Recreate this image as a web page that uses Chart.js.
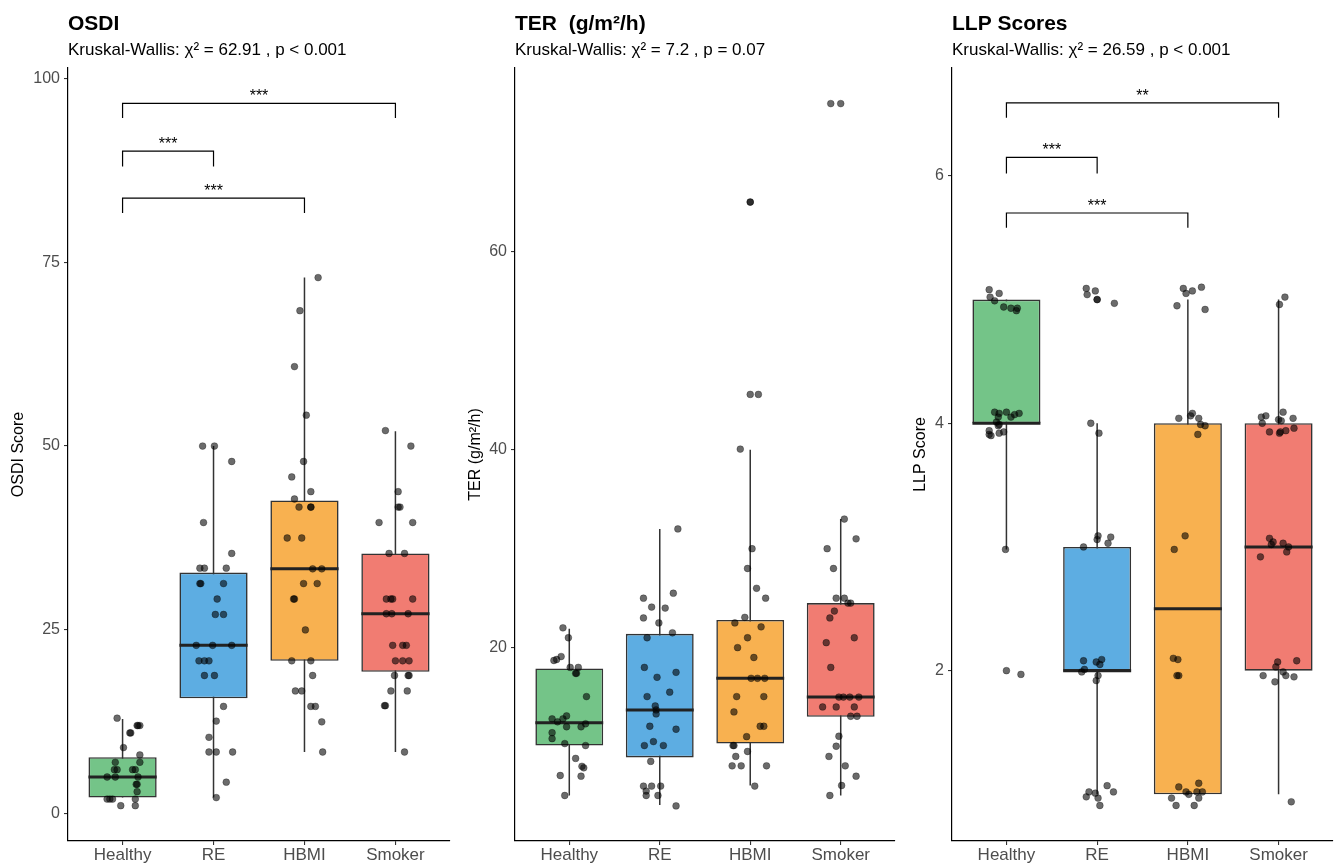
<!DOCTYPE html>
<html><head><meta charset="utf-8">
<script src="https://cdn.jsdelivr.net/npm/chart.js@4.4.0/dist/chart.umd.min.js"></script>
<style>
html,body{margin:0;padding:0;background:#fff;}
#wrap{position:relative;width:1338px;height:865px;overflow:hidden;background:#fff;}
canvas{position:absolute;top:0;}
</style></head><body>
<div id="wrap">
<canvas id="c1" width="455" height="865" style="left:0px"></canvas>
<canvas id="c2" width="445" height="865" style="left:455px"></canvas>
<canvas id="c3" width="438" height="865" style="left:900px"></canvas>
</div>
<script>
const categories = ['Healthy', 'RE', 'HBMI', 'Smoker'];
const boxColors = ['rgb(116,196,136)', 'rgb(93,173,226)', 'rgb(248,177,80)', 'rgb(241,124,114)'];

// ---------- OSDI ----------
const osdiTitle = 'OSDI';
const osdiSubtitle = 'Kruskal-Wallis: χ² = 62.91 , p < 0.001';
const osdiAxisTitle = 'OSDI Score';
const osdiTicks = [0, 25, 50, 75, 100];
const osdiQ1 = [2.2, 15.7, 20.8, 19.3];
const osdiMedian = [5.0, 22.9, 33.3, 27.2];
const osdiQ3 = [7.7, 32.8, 42.6, 35.4];
const osdiWhiskerLow = [2.2, 2.2, 8.4, 8.4];
const osdiWhiskerHigh = [12.9, 50.0, 72.9, 52.0];
// jittered points: [horizontal jitter (category units), value]
const osdiHealthyPts = [[-0.06,13],[0.16,12],[0.17,12],[0.19,12],[0.08,11],[0.09,11],[0.01,9],[0.19,8],[-0.08,7],[0.19,7],[-0.09,6],[-0.06,6],[0.11,6],[0.14,6],[-0.17,5],[-0.08,5],[0.17,5],[0.15,4],[0.16,4],[0.16,3],[-0.17,2],[-0.14,2],[-0.11,2],[0.14,2],[-0.02,1.1],[0.14,1.1]];
const osdiREPts = [[-0.12,50],[0.01,50],[0.20,47.9],[-0.11,39.6],[0.20,35.4],[-0.15,33.4],[-0.10,33.4],[0.14,33.4],[-0.15,31.3],[-0.14,31.3],[0.11,31.3],[0.04,29.2],[0.02,27.1],[0.11,27.1],[-0.19,22.9],[-0.01,22.9],[0.20,22.9],[-0.16,20.8],[-0.10,20.8],[-0.05,20.8],[-0.10,18.8],[0.01,18.8],[0.11,14.6],[0.03,12.6],[-0.05,10.4],[-0.05,8.4],[0.03,8.4],[0.21,8.4],[0.14,4.3],[0.03,2.2]];
const osdiHBMIPts = [[0.15,72.9],[-0.05,68.4],[-0.11,60.8],[0.02,54.2],[-0.01,47.9],[-0.14,45.8],[0.07,43.8],[-0.11,42.8],[-0.06,41.7],[0.07,41.7],[0.07,41.7],[-0.19,37.5],[-0.03,37.5],[0.09,33.3],[0.19,33.3],[-0.01,31.3],[0.14,31.3],[-0.12,29.2],[-0.11,29.2],[0.01,25.0],[-0.14,20.8],[0.07,20.8],[0.09,18.8],[-0.10,16.7],[-0.03,16.7],[0.07,14.6],[0.12,14.6],[0.19,12.5],[0.20,8.4]];
const osdiSmokerPts = [[-0.11,52.1],[0.17,50],[0.03,43.8],[0.03,41.7],[0.05,41.7],[-0.18,39.6],[0.19,39.6],[-0.07,35.4],[0.10,35.4],[-0.10,29.2],[-0.05,29.2],[-0.03,29.2],[0.19,29.2],[-0.10,27.2],[-0.04,27.2],[0.14,27.2],[-0.03,22.9],[0.08,22.9],[0.12,22.9],[0.00,20.8],[0.08,20.8],[0.15,20.8],[-0.01,18.8],[0.14,18.8],[0.15,18.8],[-0.05,16.7],[0.13,16.7],[-0.12,14.7],[-0.11,14.7],[0.10,8.4]];
const osdiBracketFrom = [1, 1, 1];
const osdiBracketTo = [4, 2, 3];
const osdiBracketTop = [96.6, 90.1, 83.7];
const osdiBracketTip = [94.6, 88.0, 81.7];
const osdiBracketLabel = ['***', '***', '***'];

// ---------- TER ----------
const terTitle = 'TER  (g/m²/h)';
const terSubtitle = 'Kruskal-Wallis: χ² = 7.2 , p = 0.07';
const terAxisTitle = 'TER (g/m²/h)';
const terTicks = [20, 40, 60];
const terQ1 = [10.1, 8.9, 10.3, 13.0];
const terMedian = [12.4, 13.7, 16.9, 15.0];
const terQ3 = [17.9, 21.4, 22.8, 24.5];
const terWhiskerLow = [5.05, 4.1, 6.06, 5.05];
const terWhiskerHigh = [21.9, 32.0, 40.0, 33.0];
const terHealthyPts = [[-0.07,22.0],[-0.01,21.0],[-0.17,18.7],[-0.14,18.8],[-0.09,19.1],[0.01,18.0],[0.10,18.0],[0.07,17.4],[0.08,17.4],[0.19,15.05],[-0.19,12.8],[-0.07,12.8],[-0.13,12.5],[-0.03,13.1],[0.13,12.0],[0.18,12.3],[-0.03,12.0],[-0.19,11.4],[-0.19,10.8],[-0.05,10.3],[0.18,10.1],[0.07,8.8],[0.14,8.0],[0.16,7.85],[0.13,7.0],[-0.10,7.07],[-0.05,5.05]];
const terREPts = [[0.20,32.0],[0.15,25.5],[-0.18,25.0],[-0.09,24.1],[0.06,24.0],[-0.18,23.0],[-0.01,22.5],[0.14,21.5],[-0.14,21.0],[-0.17,18.0],[0.18,17.5],[-0.03,17.0],[0.11,15.5],[-0.14,15.05],[-0.05,14.1],[-0.04,13.7],[-0.04,13.3],[-0.11,12.05],[0.18,11.75],[-0.07,10.5],[-0.17,10.1],[0.04,10.1],[-0.10,8.5],[-0.18,6.0],[-0.09,6.0],[0.01,6.0],[-0.15,5.5],[-0.15,5.05],[-0.02,5.05],[0.18,4.0]];
const terHBMIPts = [[0.00,65.05],[0.00,65.05],[0.00,45.6],[0.09,45.6],[-0.11,40.07],[0.02,30.0],[-0.03,28.0],[0.07,26.0],[0.17,25.0],[-0.06,23.06],[-0.17,22.5],[0.12,22.1],[-0.03,21.0],[-0.14,20.0],[0.04,19.0],[0.01,16.9],[0.08,16.9],[0.16,16.9],[-0.15,15.05],[0.15,15.05],[-0.18,13.5],[0.11,12.05],[0.15,12.05],[-0.04,11.0],[-0.19,10.1],[-0.18,10.1],[-0.16,9.0],[-0.03,9.5],[-0.20,8.05],[-0.10,8.05],[0.18,8.05],[0.05,6.0]];
const terSmokerPts = [[-0.11,75.0],[0.00,75.0],[0.04,33.0],[0.17,31.0],[-0.15,30.0],[-0.08,28.0],[-0.05,25.0],[0.04,25.0],[0.08,24.5],[0.11,24.5],[-0.12,23.0],[-0.07,23.7],[-0.16,20.5],[0.15,21.0],[-0.11,18.0],[-0.02,15.0],[0.03,15.0],[0.10,15.0],[0.20,15.0],[-0.20,14.0],[-0.05,14.0],[0.15,14.0],[0.11,13.06],[0.18,13.06],[-0.02,11.04],[-0.05,10.03],[-0.13,9.0],[0.05,8.05],[0.17,7.0],[0.01,6.06],[-0.12,5.05]];
const terBracketFrom = [];
const terBracketTo = [];
const terBracketTop = [];
const terBracketTip = [];
const terBracketLabel = [];

// ---------- LLP ----------
const llpTitle = 'LLP Scores';
const llpSubtitle = 'Kruskal-Wallis: χ² = 26.59 , p < 0.001';
const llpAxisTitle = 'LLP Score';
const llpTicks = [2, 4, 6];
const llpQ1 = [4.0, 2.0, 1.0, 2.0];
const llpMedian = [4.0, 2.0, 2.5, 3.0];
const llpQ3 = [5.0, 3.0, 4.0, 4.0];
const llpWhiskerLow = [2.98, 1.0, 1.0, 1.0];
const llpWhiskerHigh = [5.0, 4.0, 5.0, 5.0];
const llpHealthyPts = [[-0.19,5.08],[-0.08,5.05],[-0.18,5.02],[-0.13,4.99],[-0.03,4.94],[0.05,4.93],[0.12,4.93],[0.11,4.91],[-0.13,4.09],[-0.08,4.08],[0.00,4.09],[-0.09,4.05],[0.05,4.05],[0.14,4.08],[0.09,4.07],[-0.11,4.01],[-0.08,3.99],[-0.09,3.98],[-0.19,3.94],[-0.17,3.90],[-0.08,3.92],[-0.03,3.93],[-0.19,3.91],[-0.01,2.98],[0.00,2.0],[0.16,1.97]];
const llpREPts = [[-0.12,5.09],[-0.02,5.07],[-0.11,5.04],[0.00,5.0],[0.00,5.0],[0.19,4.97],[-0.07,4.0],[0.02,3.92],[0.01,3.09],[0.15,3.08],[0.00,3.06],[0.12,3.03],[-0.15,3.0],[-0.15,2.08],[-0.01,2.07],[0.05,2.09],[0.03,2.05],[-0.17,1.99],[-0.14,2.01],[0.01,1.96],[-0.01,1.92],[0.11,1.07],[-0.09,1.02],[0.18,1.02],[-0.02,1.01],[-0.12,0.98],[0.01,0.97],[0.03,0.91]];
const llpHBMIPts = [[-0.05,5.09],[0.15,5.10],[0.05,5.07],[-0.02,5.05],[-0.12,4.95],[0.19,4.92],[0.05,4.08],[0.03,4.06],[-0.10,4.04],[0.12,4.04],[0.14,3.99],[0.19,3.98],[0.11,3.91],[-0.03,3.09],[-0.15,2.98],[-0.16,2.10],[-0.11,2.09],[-0.12,1.96],[-0.10,1.96],[0.12,1.09],[-0.10,1.06],[-0.02,1.02],[0.10,1.02],[0.16,1.02],[0.01,1.0],[-0.18,0.97],[0.12,0.97],[-0.13,0.91],[0.07,0.91]];
const llpSmokerPts = [[0.07,5.02],[0.01,4.96],[0.05,4.09],[-0.19,4.05],[-0.14,4.06],[0.00,4.03],[0.16,4.04],[-0.18,4.0],[0.03,4.02],[-0.10,3.93],[0.01,3.92],[0.08,3.94],[0.17,3.96],[0.02,3.93],[-0.10,3.07],[-0.06,3.04],[-0.08,3.02],[0.05,3.03],[0.11,3.0],[0.09,2.96],[-0.20,2.92],[-0.01,2.07],[-0.03,2.03],[0.20,2.08],[0.05,1.99],[-0.17,1.96],[0.08,1.96],[0.17,1.95],[-0.04,1.91],[0.14,0.94]];
const llpBracketFrom = [1, 1, 1];
const llpBracketTo = [4, 2, 3];
const llpBracketTop = [6.59, 6.15, 5.70];
const llpBracketTip = [6.47, 6.02, 5.58];
const llpBracketLabel = ['**', '***', '***'];

// ---------- rendering ----------
const FONT = '"Liberation Sans", Arial, Helvetica, sans-serif';
Chart.defaults.font.family = FONT;
Chart.defaults.color = '#000';

const BOX_FRACTION = 0.75;

const starLabels = {
  id: 'starLabels',
  afterDatasetsDraw(chart, args, opts) {
    const {ctx} = chart;
    const xs = chart.scales.x, ys = chart.scales.y;
    ctx.save();
    ctx.font = '16px ' + FONT;
    ctx.fillStyle = '#000';
    ctx.textAlign = 'center';
    ctx.textBaseline = 'alphabetic';
    (opts.items || []).forEach(b => {
      ctx.fillText(b.label, xs.getPixelForValue((b.from + b.to) / 2), ys.getPixelForValue(b.y) - 2);
    });
    ctx.restore();
  }
};

function makePanel(id, p) {
  const boxData = categories.map((c, i) => ({x: i + 1, y: [p.q1[i], p.q3[i]]}));
  const whisk = [];
  categories.forEach((c, i) => { whisk.push({x: i + 1, y: p.lo[i]}, {x: i + 1, y: p.hi[i]}, {x: i + 1, y: null}); });
  const med = [];
  categories.forEach((c, i) => {
    med.push({x: i + 1 - BOX_FRACTION / 2, y: p.med[i]}, {x: i + 1 + BOX_FRACTION / 2, y: p.med[i]}, {x: i + 1, y: null});
  });
  const pts = [];
  p.pts.forEach((arr, i) => arr.forEach(([dx, v]) => pts.push({x: i + 1 + dx, y: v})));
  const br = [];
  const items = [];
  p.bFrom.forEach((f, k) => {
    const t = p.bTo[k];
    br.push({x: f, y: p.bTip[k]}, {x: f, y: p.bTop[k]}, {x: t, y: p.bTop[k]}, {x: t, y: p.bTip[k]}, {x: t, y: null});
    items.push({from: f, to: t, y: p.bTop[k], label: p.bLabel[k]});
  });

  return new Chart(document.getElementById(id), {
    type: 'bar',
    data: {
      datasets: [
        {type: 'line', data: whisk, borderColor: '#333333', borderWidth: 1.5, pointRadius: 0, spanGaps: false, order: 4, borderCapStyle: 'butt'},
        {type: 'bar', data: boxData, backgroundColor: boxColors, borderColor: '#333333', borderWidth: 1.6, borderSkipped: false,
         grouped: false, categoryPercentage: 1, barPercentage: BOX_FRACTION, order: 3},
        {type: 'line', data: med, borderColor: '#222222', borderWidth: 3, pointRadius: 0, spanGaps: false, order: 2, borderCapStyle: 'butt'},
        {type: 'line', data: br, borderColor: '#000', borderWidth: 1.2, pointRadius: 0, spanGaps: false, order: 1},
        {type: 'scatter', data: pts, backgroundColor: 'rgba(0,0,0,0.58)', borderColor: 'rgba(0,0,0,0.3)', borderWidth: 1,
         pointRadius: 3.4, order: 0}
      ]
    },
    options: {
      responsive: false,
      animation: false,
      devicePixelRatio: 1,
      events: [],
      layout: {padding: {left: 0, right: p.padRight, top: 0, bottom: 0}},
      plugins: {
        legend: {display: false},
        tooltip: {enabled: false},
        title: {display: true, text: p.title, align: 'start', fullSize: false, color: '#000',
          font: {size: 21, weight: 'bold', family: FONT}, padding: {top: 11.4, bottom: 3.2}},
        subtitle: {display: true, text: p.subtitle, align: 'start', fullSize: false, color: '#000',
          font: {size: 17, family: FONT}, padding: {top: 0, bottom: 7.8}},
        starLabels: {items}
      },
      scales: {
        x: {
          type: 'linear', min: 0.4, max: 4.6, offset: false,
          afterBuildTicks: s => { s.ticks = categories.map((c, i) => ({value: i + 1})); },
          afterFit: s => { s.height = 24; },
          ticks: {callback: v => categories[v - 1], color: '#4d4d4d', font: {size: 17, family: FONT}, padding: 0,
            autoSkip: false, maxRotation: 0},
          grid: {display: true, offset: false, drawOnChartArea: false, drawTicks: true, tickLength: 4, color: '#333', lineWidth: 1.1},
          border: {display: true, color: '#000', width: 1.2}
        },
        y: {
          type: 'linear', min: p.yMin, max: p.yMax,
          afterBuildTicks: s => { s.ticks = p.ticks.map(v => ({value: v})); },
          afterFit: s => { s.width = p.axisW; },
          ticks: {color: '#4d4d4d', font: {size: 16, family: FONT}, padding: 4},
          grid: {display: true, drawOnChartArea: false, drawTicks: true, tickLength: 4, color: '#333', lineWidth: 1.1},
          border: {display: true, color: '#000', width: 1.2},
          title: {display: true, text: p.axisTitle, color: '#000', font: {size: 16, family: FONT}, padding: {top: p.titlePad, bottom: 0}}
        }
      }
    },
    plugins: [starLabels]
  });
}

makePanel('c1', {
  title: osdiTitle, subtitle: osdiSubtitle, axisTitle: osdiAxisTitle, ticks: osdiTicks,
  q1: osdiQ1, med: osdiMedian, q3: osdiQ3, lo: osdiWhiskerLow, hi: osdiWhiskerHigh,
  pts: [osdiHealthyPts, osdiREPts, osdiHBMIPts, osdiSmokerPts],
  bFrom: osdiBracketFrom, bTo: osdiBracketTo, bTop: osdiBracketTop, bTip: osdiBracketTip, bLabel: osdiBracketLabel,
  yMin: -3.7, yMax: 101.4, axisW: 68, padRight: 4.4, titlePad: 9
});
makePanel('c2', {
  title: terTitle, subtitle: terSubtitle, axisTitle: terAxisTitle, ticks: terTicks,
  q1: terQ1, med: terMedian, q3: terQ3, lo: terWhiskerLow, hi: terWhiskerHigh,
  pts: [terHealthyPts, terREPts, terHBMIPts, terSmokerPts],
  bFrom: terBracketFrom, bTo: terBracketTo, bTop: terBracketTop, bTip: terBracketTip, bLabel: terBracketLabel,
  yMin: 0.45, yMax: 78.6, axisW: 60, padRight: 3, titlePad: 11
});
makePanel('c3', {
  title: llpTitle, subtitle: llpSubtitle, axisTitle: llpAxisTitle, ticks: llpTicks,
  q1: llpQ1, med: llpMedian, q3: llpQ3, lo: llpWhiskerLow, hi: llpWhiskerHigh,
  pts: [llpHealthyPts, llpREPts, llpHBMIPts, llpSmokerPts],
  bFrom: llpBracketFrom, bTo: llpBracketTo, bTop: llpBracketTop, bTip: llpBracketTip, bLabel: llpBracketLabel,
  yMin: 0.623, yMax: 6.872, axisW: 52, padRight: 3, titlePad: 11
});
</script>
</body></html>
